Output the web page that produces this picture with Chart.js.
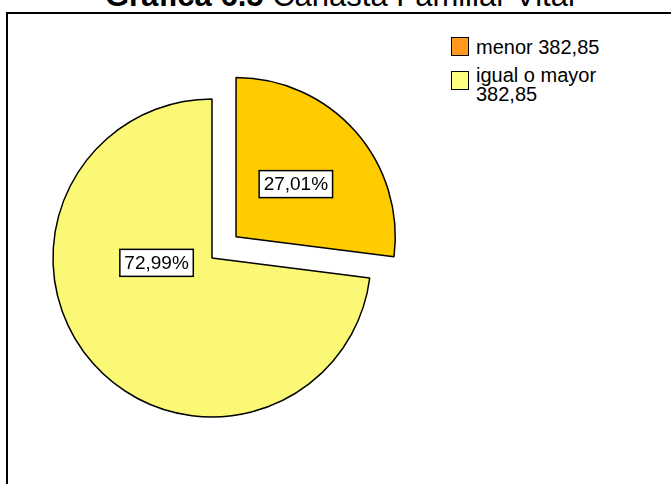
<!DOCTYPE html>
<html>
<head>
<meta charset="utf-8">
<script src="https://cdn.jsdelivr.net/npm/chart.js@4/dist/chart.umd.min.js"></script>
<style>
  html, body { margin: 0; padding: 0; background: #fff; overflow: hidden; }
  body { width: 671px; height: 484px; position: relative; font-family: Arial, "Liberation Sans", sans-serif; }
  #title { position: absolute; left: 105px; top: -20px; font-size: 31px; line-height: 31px; white-space: nowrap; color: #000; }
  #frame { position: absolute; left: 6px; top: 12px; width: 720px; height: 520px; border: 2px solid #000; }
  #chart-wrap { position: absolute; left: 0; top: 0; width: 671px; height: 484px; }
  .legend-item { position: absolute; left: 451px; font-size: 20px; line-height: 19px; color: #000; }
  .swatch { position: absolute; left: 0; width: 16px; height: 17px; border: 1.5px solid #000; }
  .legend-text { position: absolute; left: 25px; width: 140px; }
</style>
</head>
<body>
<div id="title"><b>Gráfica 6.5</b> Canasta Familiar Vital</div>
<div id="frame"></div>
<div id="legend"></div>
<div id="chart-wrap"><canvas id="pie"></canvas></div>
<script>
const CATEGORIES = ["menor 382,85", "igual o mayor 382,85"];
const PERCENTS = [27.01, 72.99];
const PERCENT_LABELS = ["27,01%", "72,99%"];
const SLICE_COLORS = ["#ffcc00", "#faf875"];
const LEGEND_COLORS = ["#ff9a1f", "#ffff80"];
const SLICE_OFFSETS = [128, 0];

// where each label sits: clock angle (deg from top, null = slice middle) and radius fraction
const LABEL_SPOTS = [
  { angle: null, frac: 0.5 },
  { angle: 265, frac: 0.35 },
];

const LEGEND_TOPS = [{ swatch: 37, text: 38 }, { swatch: 71, text: 66 }];

function renderLegend() {
  const legend = document.getElementById("legend");
  legend.innerHTML = CATEGORIES.map((name, i) => `
    <div class="legend-item" style="top:0">
      <div class="swatch" style="top:${LEGEND_TOPS[i].swatch}px;background:${LEGEND_COLORS[i]}"></div>
      <div class="legend-text" style="top:${LEGEND_TOPS[i].text}px">${name}</div>
    </div>`).join("");
}

const labelBoxes = {
  id: "labelBoxes",
  afterDatasetsDraw(chart) {
    const ctx = chart.ctx;
    const arcs = chart.getDatasetMeta(0).data;
    ctx.save();
    ctx.font = "19px Arial, 'Liberation Sans', sans-serif";
    ctx.textAlign = "center";
    ctx.textBaseline = "middle";
    arcs.forEach((arc, i) => {
      const half = (arc.startAngle + arc.endAngle) / 2;
      const off = (SLICE_OFFSETS[i] || 0) / 4;
      const fix = 1 - Math.sin(Math.min(Math.PI, arc.circumference));
      const shift = off * (1 + fix);
      const cx = arc.x + Math.cos(half) * shift;
      const cy = arc.y + Math.sin(half) * shift;
      const spot = LABEL_SPOTS[i];
      const ang = spot.angle === null ? half : (spot.angle - 90) * Math.PI / 180;
      const r = arc.outerRadius * spot.frac;
      const x = cx + Math.cos(ang) * r;
      const y = cy + Math.sin(ang) * r;
      const text = PERCENT_LABELS[i];
      const w = ctx.measureText(text).width + 9;
      const h = 27;
      ctx.fillStyle = "#fff";
      ctx.fillRect(x - w / 2, y - h / 2, w, h);
      ctx.lineWidth = 1.5;
      ctx.strokeStyle = "#000";
      ctx.strokeRect(x - w / 2, y - h / 2, w, h);
      ctx.fillStyle = "#000";
      ctx.fillText(text, x, y + 1);
    });
    ctx.restore();
  },
};

function buildChart() {
  return new Chart(document.getElementById("pie"), {
    type: "pie",
    data: {
      labels: CATEGORIES,
      datasets: [{
        data: PERCENTS,
        backgroundColor: SLICE_COLORS,
        borderColor: "#000",
        borderWidth: 1.5,
        offset: SLICE_OFFSETS,
      }],
    },
    options: {
      responsive: true,
      maintainAspectRatio: false,
      animation: false,
      radius: 159,
      layout: { padding: { left: 0, right: 247, top: 32, bottom: 0 } },
      plugins: {
        legend: { display: false },
        title: { display: false },
        tooltip: { enabled: false },
      },
    },
    plugins: [labelBoxes],
  });
}

renderLegend();
buildChart();
</script>
</body>
</html>
